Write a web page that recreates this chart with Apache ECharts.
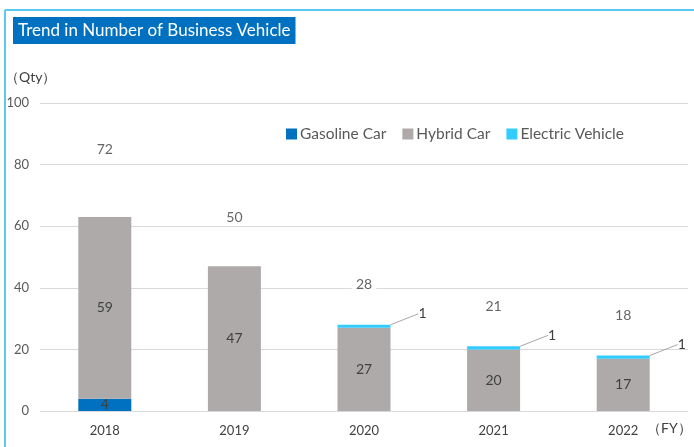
<!DOCTYPE html>
<html>
<head>
<meta charset="utf-8">
<script src="https://cdn.jsdelivr.net/npm/echarts@6/dist/echarts.min.js"></script>
<style>
  html, body { margin: 0; padding: 0; background: #fff; }
  #chart { width: 694px; height: 447px; }
</style>
</head>
<body>
<div id="chart"></div>
<script>
const years = ['2018', '2019', '2020', '2021', '2022']
const gasoline = [4, 0, 0, 0, 0]
const hybrid = [59, 47, 27, 20, 17]
const electric = [0, 0, 1, 1, 1]
const totals = [72, 50, 28, 21, 18]

const FONT = 'Lato'
const textColor = '#404040'

// zero segments are not drawn or labelled
const nz = arr => arr.map(v => (v === 0 ? '-' : v))

const chart = echarts.init(document.getElementById('chart'))

chart.setOption({
  animation: false,
  textStyle: { fontFamily: FONT },
  title: {
    text: 'Trend in Number of Business Vehicle',
    left: 13,
    top: 17,
    backgroundColor: '#0070C0',
    padding: [5, 5, 5, 5],
    textStyle: { color: '#fff', fontSize: 17, fontWeight: 'normal', fontFamily: FONT }
  },
  legend: {
    data: ['Gasoline Car', 'Hybrid Car', 'Electric Vehicle'],
    left: 281,
    top: 121,
    icon: 'rect',
    itemWidth: 11,
    itemHeight: 11,
    itemGap: 16,
    textStyle: { color: '#595959', fontSize: 15.5, fontFamily: FONT, padding: [0, 0, 0, -2] }
  },
  grid: { left: 40, right: 6, top: 103, bottom: 36 },
  xAxis: {
    type: 'category',
    data: years,
    axisLine: { show: false },
    axisTick: { show: false },
    axisLabel: { color: textColor, fontSize: 13, margin: 13 }
  },
  yAxis: {
    type: 'value',
    min: 0,
    max: 100,
    interval: 20,
    axisLine: { show: false },
    axisTick: { show: false },
    splitLine: { lineStyle: { color: '#d9d9d9', width: 1 } },
    axisLabel: { color: '#595959', fontSize: 13, margin: 11 }
  },
  graphic: [
    { type: 'line', shape: { x1: 5, y1: 10, x2: 694, y2: 10 }, style: { stroke: '#5BC8F0', lineWidth: 2 } },
    { type: 'line', shape: { x1: 5, y1: 10, x2: 5, y2: 447 }, style: { stroke: '#5BC8F0', lineWidth: 2 } },
    { type: 'text', left: 5, top: 70, style: { text: '（Qty）', fill: textColor, font: '14px ' + FONT } },
    { type: 'text', left: 647, top: 421, style: { text: '（FY）', fill: textColor, font: '14px ' + FONT } }
  ],
  series: [
    {
      name: 'Gasoline Car',
      type: 'bar',
      stack: 'vehicle',
      barWidth: 53,
      data: nz(gasoline),
      itemStyle: { color: '#0070C0' },
      label: { show: true, position: 'inside', color: textColor, fontSize: 14 }
    },
    {
      name: 'Hybrid Car',
      type: 'bar',
      stack: 'vehicle',
      barWidth: 53,
      data: nz(hybrid),
      itemStyle: { color: '#AEAAAA' },
      label: { show: true, position: 'inside', color: textColor, fontSize: 14 }
    },
    {
      name: 'Electric Vehicle',
      type: 'bar',
      stack: 'vehicle',
      barWidth: 53,
      data: nz(electric),
      itemStyle: { color: '#33CCFF' },
      label: { show: true, position: 'top', distance: 0, color: textColor, fontSize: 14, padding: [0, 0, 0, 7] },
      labelLayout: { dx: 55, dy: -4 },
      labelLine: { show: true, lineStyle: { color: '#a6a6a6', width: 1 } }
    },
    {
      name: 'Total',
      type: 'scatter',
      data: totals,
      symbolSize: 0,
      silent: true,
      label: {
        show: true,
        position: 'top',
        distance: 33,
        color: textColor,
        fontSize: 14,
        backgroundColor: '#fff',
        padding: [0, 4]
      }
    }
  ]
})
</script>
</body>
</html>
